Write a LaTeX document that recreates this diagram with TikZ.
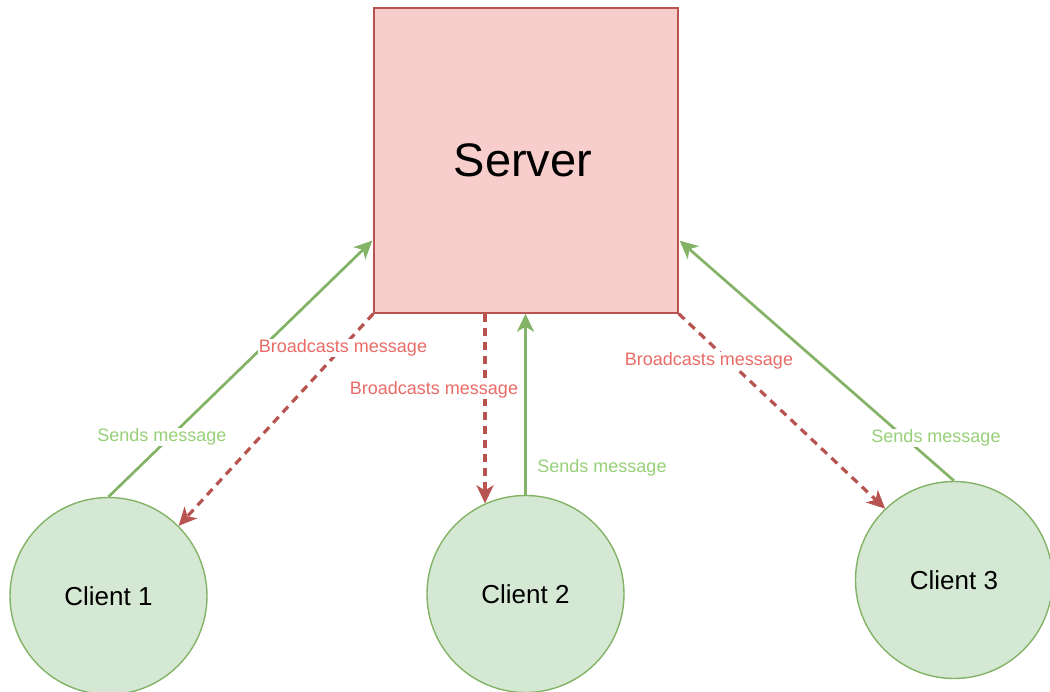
\documentclass[tikz,border=0pt]{standalone}
\usepackage{fontspec}
\setmainfont{Liberation Sans}
\usetikzlibrary{arrows.meta,calc}
\definecolor{srvfill}{HTML}{F8CECC}
\definecolor{srvline}{HTML}{B85450}
\definecolor{clifill}{HTML}{D5E8D4}
\definecolor{cliline}{HTML}{82B366}
\definecolor{redtext}{HTML}{EA6B66}
\definecolor{greentext}{HTML}{97D077}
\tikzset{
  serverbox/.style={draw=srvline, fill=srvfill, line width=1.4pt,
    minimum width=304pt, minimum height=305pt, inner sep=0pt,
    font=\fontsize{47}{52}\selectfont},
  clientnode/.style={circle, draw=cliline, fill=clifill, line width=1.4pt,
    minimum size=197pt, inner sep=0pt, font=\fontsize{26}{31}\selectfont},
  tip/.style={-{Stealth[length=18pt,width=17pt,inset=5pt]}},
  sendarrow/.style={tip, draw=cliline, line width=2.7pt},
  castarrow/.style={tip, draw=srvline, line width=3.2pt, dash pattern=on 8pt off 6pt},
  lbl/.style={fill=white, inner sep=1pt, font=\fontsize{18}{21}\selectfont},
  castlbl/.style={lbl, text=redtext},
  sendlbl/.style={lbl, text=greentext},
}
\begin{document}
\begin{tikzpicture}[x=1pt,y=-1pt]
  \useasboundingbox (0,0) rectangle (1050,692);
  \node[serverbox] (server) at (526,160.5) {\hspace*{-6pt}Server};
  \node[clientnode] (c1) at (108.5,596) {Client 1};
  \node[clientnode] (c2) at (525.5,594) {Client 2};
  \node[clientnode] (c3) at (954,580) {Client 3};

  % client 1
  \coordinate (s1) at ($(server.south west)+(-1,-73)$);
  \draw[sendarrow] (c1.north) -- (s1);
  \draw[castarrow] (server.south west) -- (c1.45);
  % client 2
  \coordinate (b2) at ($(server.south)+(-41,0)$);
  \draw[castarrow] (b2) -- (b2 |- c2.114);
  \draw[sendarrow] (c2.north) -- (c2.north |- server.south);
  % client 3
  \coordinate (s3) at ($(server.south east)+(1,-73)$);
  \draw[castarrow] (server.south east) -- (c3.134);
  \draw[sendarrow] (c3.north) -- (s3);

  % labels
  \node[castlbl] (l1) at (343,348) {Broadcasts message};
  \node[sendlbl] (l2) at (162,437) {Sends message};
  \node[castlbl] (l3) at (434,390) {Broadcasts message};
  \node[sendlbl] (l4) at (602,468) {Sends message};
  \node[castlbl] (l5) at (709,361) {Broadcasts message};
  \node[sendlbl] (l6) at (936,438) {Sends message};
\end{tikzpicture}
\end{document}
